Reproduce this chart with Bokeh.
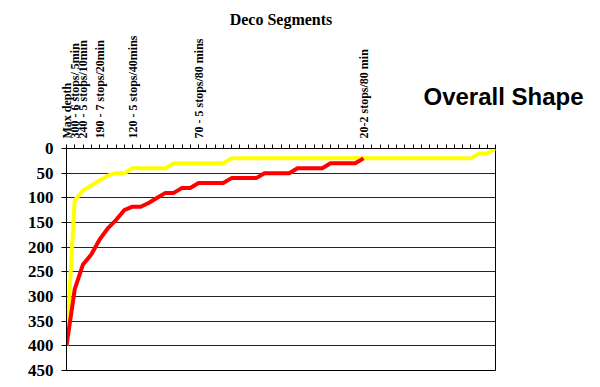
import math
from bokeh.plotting import figure
from bokeh.models import Range1d, FixedTicker, Label
from bokeh.embed import file_html
from bokeh.resources import INLINE

# ---- data ----
categories = list(range(53))
yellow_depth = [400, 105, 85, 75, 65, 55, 50, 50, 40, 40, 40, 40, 40,
                30, 30, 30, 30, 30, 30, 30] + [20] * 30 + [10, 10, 0]
red_depth = [400, 285, 235, 215, 185, 162, 145, 125, 118, 118, 110, 100,
             90, 90, 80, 80, 70, 70, 70, 70, 60, 60, 60, 60, 50, 50, 50, 50,
             40, 40, 40, 40, 30, 30, 30, 30, 20]
label_positions = [0, 1, 2, 4, 8, 16, 36]
label_texts = ["Max depth", "300 - 6 stops/ 5min", "240 - 5 stops/10min",
               "190 - 7 stops/20min", "120 - 5 stops/40mins",
               "70 - 5 stops/80 mins", "20-2 stops/80 min"]
y_ticks = list(range(0, 451, 50))

p = figure(frame_width=429, frame_height=222, output_backend="svg", toolbar_location=None,
           x_axis_location="above",
           x_range=Range1d(0, 52), y_range=Range1d(450, 0),
           min_border_left=66, min_border_right=105, min_border_top=148,
           min_border_bottom=17)
p.title.text = "Deco Segments"
p.title.align = "center"
p.title.text_font = "Liberation Serif"
p.title.text_font_size = "16px"
p.title.text_font_style = "bold"
p.title.text_color = "black"
p.outline_line_color = "black"
p.outline_line_width = 1
p.background_fill_color = "white"
p.border_fill_color = "white"

# top axis with categories
xa = p.xaxis[0]
xa.ticker = FixedTicker(ticks=categories)
overrides = {c: "" for c in categories}
for pos, t in zip(label_positions, label_texts):
    overrides[pos] = t
xa.major_label_overrides = overrides
xa.major_label_orientation = math.pi / 2
xa.major_label_text_font = "Liberation Serif"
xa.major_label_text_font_style = "bold"
xa.major_label_text_font_size = "12px"
xa.major_label_text_color = "black"
xa.major_label_standoff = 6
xa.major_tick_out = 4
xa.major_tick_in = 0
xa.minor_tick_line_color = None
xa.axis_line_color = "black"
xa.major_tick_line_color = "black"

ya = p.yaxis[0]
ya.ticker = FixedTicker(ticks=y_ticks)
ya.major_label_text_font = "Liberation Serif"
ya.major_label_text_font_style = "bold"
ya.major_label_text_font_size = "17px"
ya.major_label_text_color = "black"
ya.major_label_standoff = 8
ya.major_tick_out = 5
ya.major_tick_in = 0
ya.minor_tick_line_color = None
ya.axis_line_color = "black"
ya.major_tick_line_color = "black"

p.xgrid.grid_line_color = None
p.ygrid.grid_line_color = "black"
p.ygrid.grid_line_width = 1
p.ygrid.grid_line_alpha = 0.85

p.line(categories, yellow_depth, line_color="#FFFF00", line_width=4, line_join="round")
p.line(categories[:len(red_depth)], red_depth, line_color="#FF0000", line_width=4, line_join="round")

p.add_layout(Label(x=-72, y=274, x_units="screen", y_units="screen",
                   text="Overall Shape", text_font="Liberation Sans",
                   text_font_style="bold", text_font_size="24px", text_color="black",
                   text_baseline="middle", text_align="left"), "right")

open("out.html", "w").write(file_html(p, INLINE))
